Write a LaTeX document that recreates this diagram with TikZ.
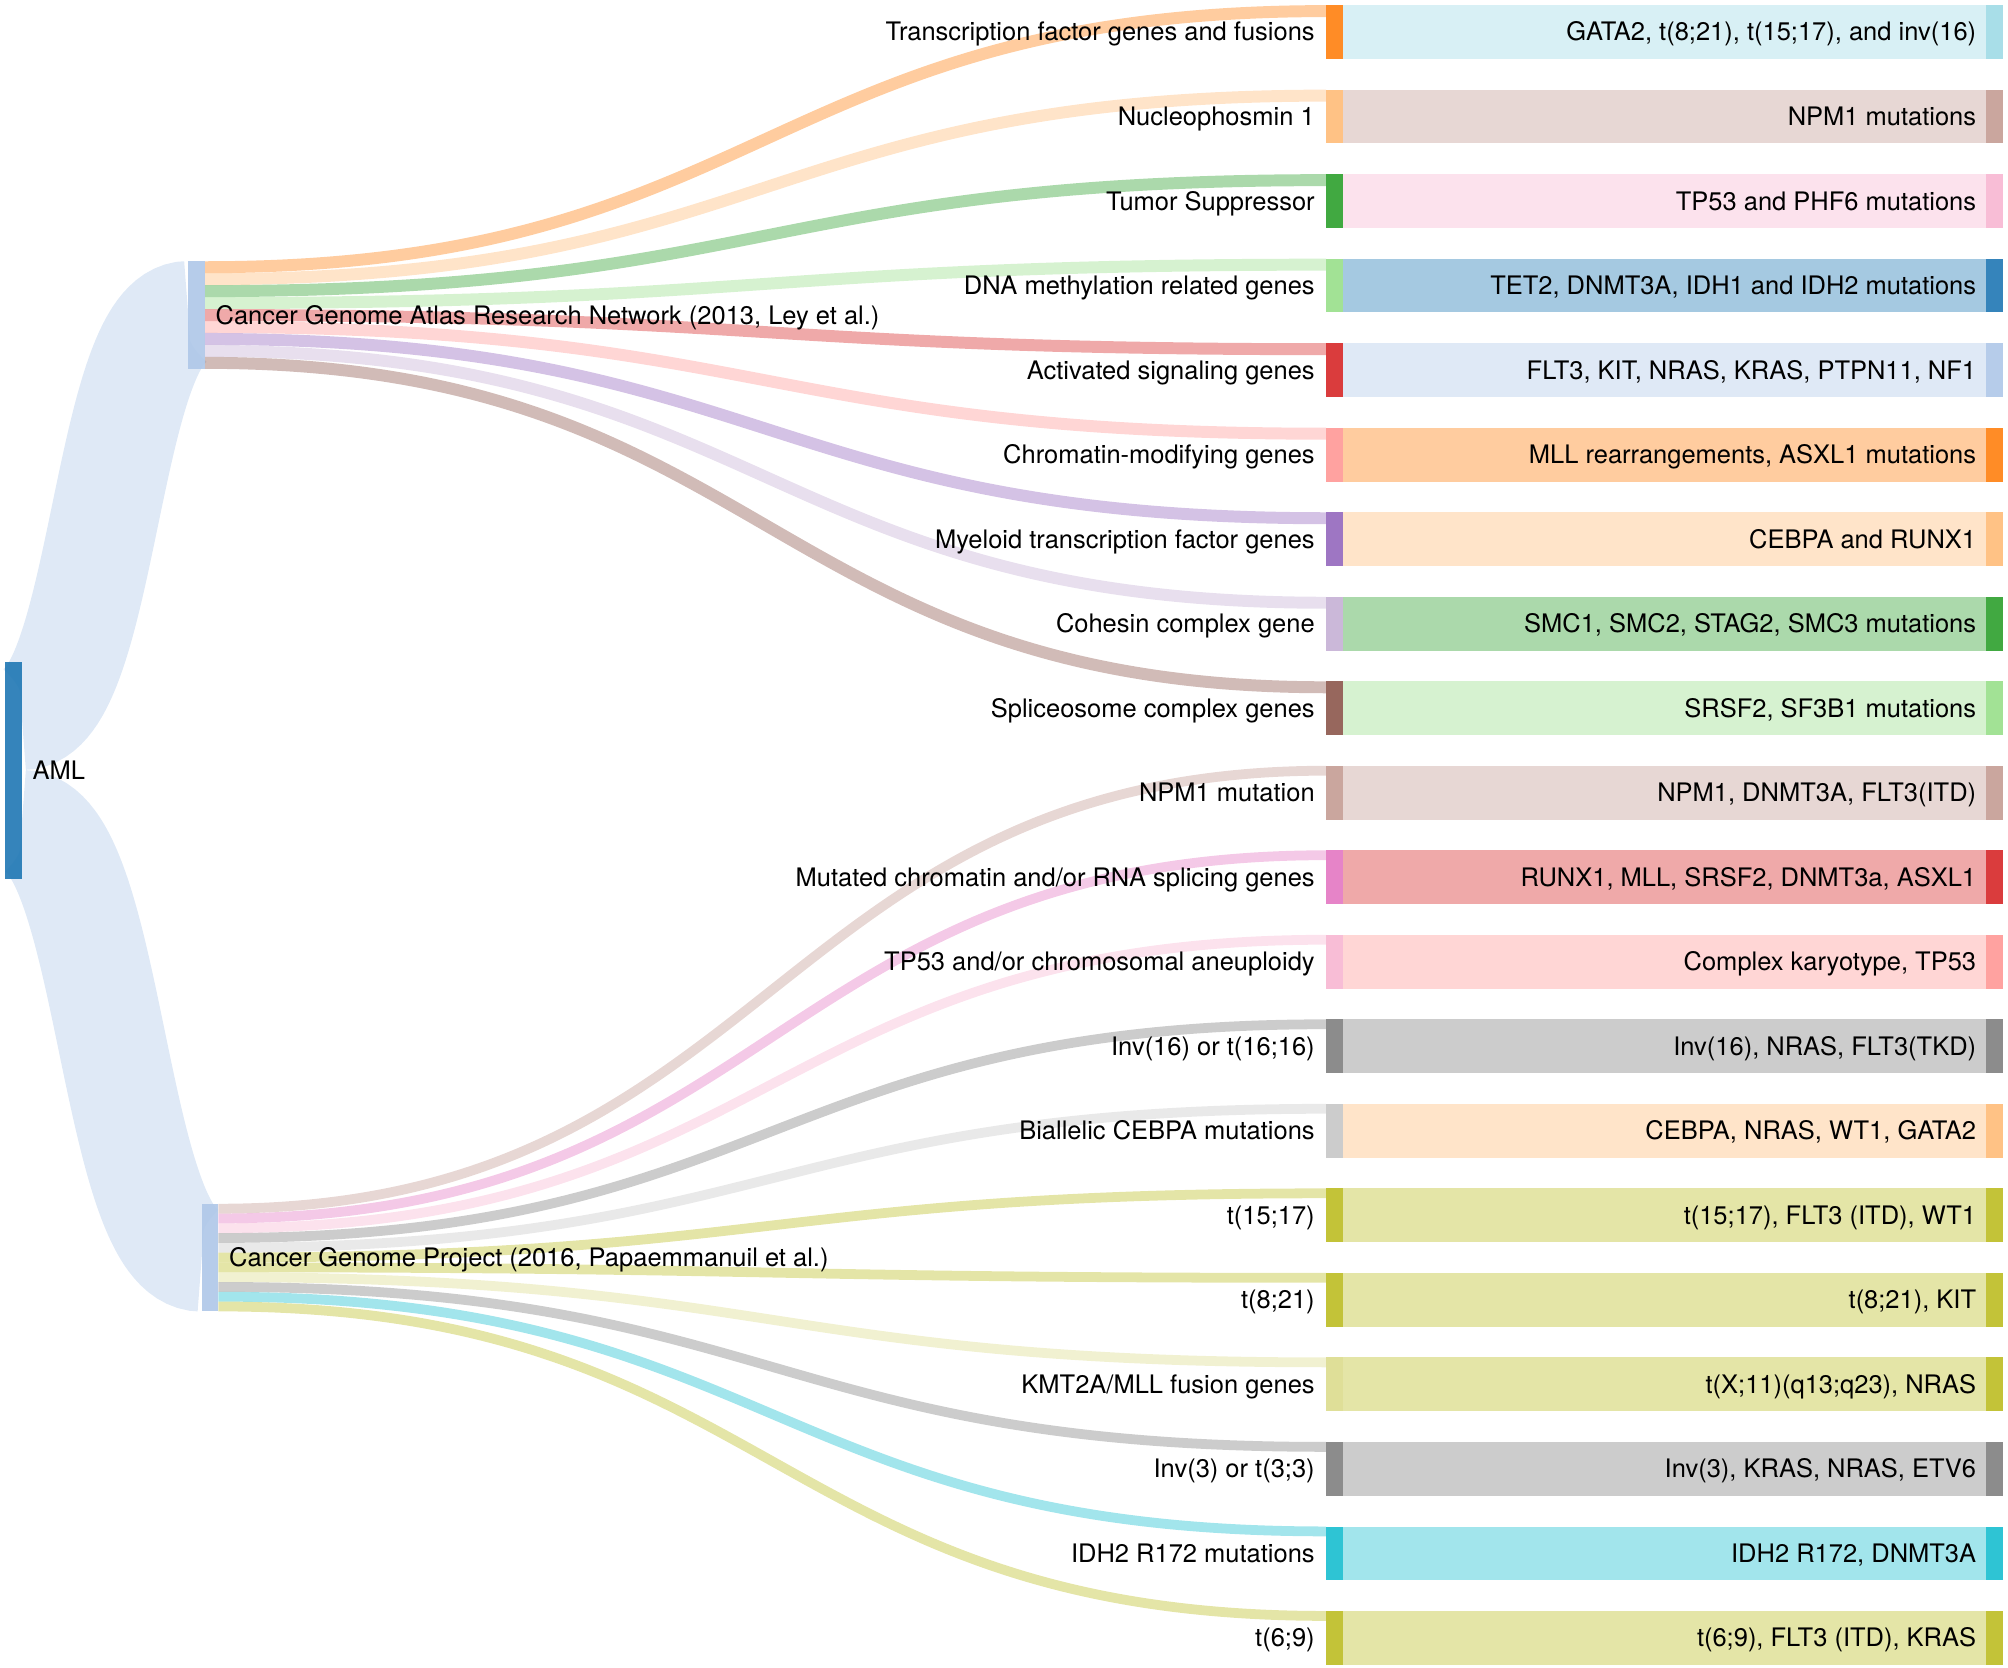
\documentclass[tikz,border=0pt]{standalone}
\usepackage{fontspec}
\setmainfont{TeX Gyre Heros}
\usetikzlibrary{calc}
\definecolor{blu}{HTML}{1F77B4}
\definecolor{lblu}{HTML}{AEC7E8}
\definecolor{ora}{HTML}{FF7F0E}
\definecolor{lora}{HTML}{FFBB78}
\definecolor{gre}{HTML}{2CA02C}
\definecolor{lgre}{HTML}{98DF8A}
\definecolor{red}{HTML}{D62728}
\definecolor{lred}{HTML}{FF9896}
\definecolor{pur}{HTML}{9467BD}
\definecolor{lpur}{HTML}{C5B0D5}
\definecolor{bro}{HTML}{8C564B}
\definecolor{lbro}{HTML}{C49C94}
\definecolor{pin}{HTML}{E377C2}
\definecolor{lpin}{HTML}{F7B6D2}
\definecolor{gra}{HTML}{7F7F7F}
\definecolor{lgra}{HTML}{C7C7C7}
\definecolor{oli}{HTML}{BCBD22}
\definecolor{loli}{HTML}{DBDB8D}
\definecolor{cya}{HTML}{17BECF}
\definecolor{lcya}{HTML}{9EDAE5}
\pgfdeclarelayer{bg}
\pgfsetlayers{bg,main}
\newcommand\lab{\fontsize{9.95pt}{12pt}\selectfont}
\tikzset{
  bar/.style={fill=#1, fill opacity=0.9, draw=none, inner sep=0pt, outer sep=0pt,
    minimum width=6.5pt, anchor=north west},
  rowbar/.style={bar=#1, minimum height=21pt},
  band/.style={draw=#1, draw opacity=0.4, line width=21pt},
  rlab/.style={inner sep=0pt, font=\lab, anchor=base east, yshift=-0.35em},
  llab/.style={inner sep=0pt, font=\lab, anchor=base west, yshift=-0.35em},
}
% row: index, mid colour, right colour, mid label, right label
\newcommand\srow[5]{%
  \pgfmathsetmacro\rt{4+66*(#1-1)}%
  \node[rowbar=#2] (m#1) at (1035.5,\rt) {};
  \node[rowbar=#3] (r#1) at (1551,\rt) {};
  \begin{pgfonlayer}{bg}
    \draw[band=#3] (m#1.east) -- (r#1.west);
  \end{pgfonlayer}
  \node[rlab] (ml#1) at ($(m#1.west)+(-8.5,0)$) {#4};
  \node[rlab] (rl#1) at ($(r#1.west)+(-7.5,0)$) {#5};
}
% flow: colour, width, source node, source offset, target node, target offset, dx
\newcommand\flow[7]{%
  \begin{pgfonlayer}{bg}
  \draw[draw=#1, draw opacity=0.4, line width=#2]
    ($(#3.north east)+(0,#4)$) .. controls ($(#3.north east)+(#7,#4)$) and ($(#5.north west)+(-#7,#6)$) .. ($(#5.north west)+(0,#6)$);
  \end{pgfonlayer}
}
\begin{document}
\begin{tikzpicture}[x=0.5pt,y=-0.5pt]
\useasboundingbox (0,0) rectangle (1568,1302);
% left nodes
\node[bar=blu, minimum height=84.5pt] (aml) at (4,517) {};
\node[bar=lblu, minimum height=42pt] (cgarn) at (147,204) {};
\node[bar=lblu, minimum height=42pt] (cgp) at (157.5,940) {};
\node[llab] (amll) at ($(aml.east)+(8,0)$) {AML};
\node[llab] (cgarnl) at ($(cgarn.east)+(8,0)$) {Cancer Genome Atlas Research Network (2013, Ley et al.)};
\node[llab] (cgpl) at ($(cgp.east)+(8,0)$) {Cancer Genome Project (2016, Papaemmanuil et al.)};
% rows
\srow{1}{ora}{lcya}{Transcription factor genes and fusions}{GATA2, t(8;21), t(15;17), and inv(16)}
\srow{2}{lora}{lbro}{Nucleophosmin 1}{NPM1 mutations}
\srow{3}{gre}{lpin}{Tumor Suppressor}{TP53 and PHF6 mutations}
\srow{4}{lgre}{blu}{DNA methylation related genes}{TET2, DNMT3A, IDH1 and IDH2 mutations}
\srow{5}{red}{lblu}{Activated signaling genes}{FLT3, KIT, NRAS, KRAS, PTPN11, NF1}
\srow{6}{lred}{ora}{Chromatin-modifying genes}{MLL rearrangements, ASXL1 mutations}
\srow{7}{pur}{lora}{Myeloid transcription factor genes}{CEBPA and RUNX1}
\srow{8}{lpur}{gre}{Cohesin complex gene}{SMC1, SMC2, STAG2, SMC3 mutations}
\srow{9}{bro}{lgre}{Spliceosome complex genes}{SRSF2, SF3B1 mutations}
\srow{10}{lbro}{lbro}{NPM1 mutation}{NPM1, DNMT3A, FLT3(ITD)}
\srow{11}{pin}{red}{Mutated chromatin and/or RNA splicing genes}{RUNX1, MLL, SRSF2, DNMT3a, ASXL1}
\srow{12}{lpin}{lred}{TP53 and/or chromosomal aneuploidy}{Complex karyotype, TP53}
\srow{13}{gra}{gra}{Inv(16) or t(16;16)}{Inv(16), NRAS, FLT3(TKD)}
\srow{14}{lgra}{lora}{Biallelic CEBPA mutations}{CEBPA, NRAS, WT1, GATA2}
\srow{15}{oli}{oli}{t(15;17)}{t(15;17), FLT3 (ITD), WT1}
\srow{16}{oli}{oli}{t(8;21)}{t(8;21), KIT}
\srow{17}{loli}{oli}{KMT2A/MLL fusion genes}{t(X;11)(q13;q23), NRAS}
\srow{18}{gra}{gra}{Inv(3) or t(3;3)}{Inv(3), KRAS, NRAS, ETV6}
\srow{19}{cya}{cya}{IDH2 R172 mutations}{IDH2 R172, DNMT3A}
\srow{20}{oli}{oli}{t(6;9)}{t(6;9), FLT3 (ITD), KRAS}
% AML flows
\flow{lblu}{42.125pt}{aml}{42.125}{cgarn}{42}{64.8}
\flow{lblu}{42.125pt}{aml}{126.375}{cgp}{42}{70.25}
% CGARN flows
\flow{ora}{4.667pt}{cgarn}{4.667}{m1}{4.667}{437.75}
\flow{lora}{4.667pt}{cgarn}{14}{m2}{4.667}{437.75}
\flow{gre}{4.667pt}{cgarn}{23.333}{m3}{4.667}{437.75}
\flow{lgre}{4.667pt}{cgarn}{32.667}{m4}{4.667}{437.75}
\flow{red}{4.667pt}{cgarn}{42}{m5}{4.667}{437.75}
\flow{lred}{4.667pt}{cgarn}{51.333}{m6}{4.667}{437.75}
\flow{pur}{4.667pt}{cgarn}{60.667}{m7}{4.667}{437.75}
\flow{lpur}{4.667pt}{cgarn}{70}{m8}{4.667}{437.75}
\flow{bro}{4.667pt}{cgarn}{79.333}{m9}{4.667}{437.75}
% CGP flows
\flow{lbro}{3.818pt}{cgp}{3.818}{m10}{3.818}{432.5}
\flow{pin}{3.818pt}{cgp}{11.455}{m11}{3.818}{432.5}
\flow{lpin}{3.818pt}{cgp}{19.091}{m12}{3.818}{432.5}
\flow{gra}{3.818pt}{cgp}{26.727}{m13}{3.818}{432.5}
\flow{lgra}{3.818pt}{cgp}{34.364}{m14}{3.818}{432.5}
\flow{oli}{3.818pt}{cgp}{42}{m15}{3.818}{432.5}
\flow{oli}{3.818pt}{cgp}{49.636}{m16}{3.818}{432.5}
\flow{loli}{3.818pt}{cgp}{57.273}{m17}{3.818}{432.5}
\flow{gra}{3.818pt}{cgp}{64.909}{m18}{3.818}{432.5}
\flow{cya}{3.818pt}{cgp}{72.545}{m19}{3.818}{432.5}
\flow{oli}{3.818pt}{cgp}{80.182}{m20}{3.818}{432.5}
\end{tikzpicture}
\end{document}
